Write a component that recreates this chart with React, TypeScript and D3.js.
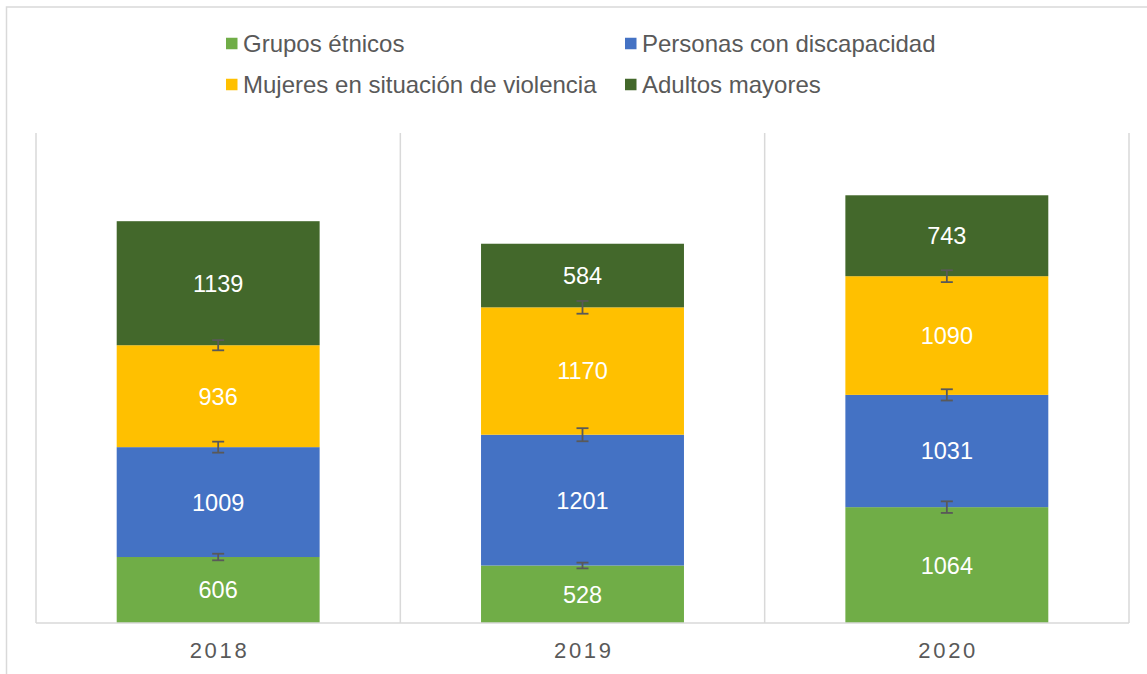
import React from 'react';
import * as d3 from 'd3';

// ─── Datos ───────────────────────────────────────────────────────────────────
const years = ['2018', '2019', '2020'];
const seriesNames = [
  'Grupos étnicos',
  'Personas con discapacidad',
  'Mujeres en situación de violencia',
  'Adultos mayores',
];
const gruposEtnicos = [606, 528, 1064];
const discapacidad = [1009, 1201, 1031];
const mujeresViolencia = [936, 1170, 1090];
const adultosMayores = [1139, 584, 743];
const seriesValues = [gruposEtnicos, discapacidad, mujeresViolencia, adultosMayores];
// barras de error en % del valor (la última serie no tiene)
const errorPct = [0.05, 0.05, 0.05, 0];
const yMax = 4500;

const colors = ['#70ad47', '#4472c4', '#ffc000', '#43682b'];
const FONT = '"Liberation Sans", Arial, sans-serif';

export default function App() {
  const W = 1147;
  const H = 674;
  const plot = { left: 36, right: 1129, top: 133, bottom: 623 };

  const x = d3.scaleBand<string>().domain(years).range([plot.left, plot.right]).padding(0);
  const y = d3.scaleLinear().domain([0, yMax]).range([plot.bottom, plot.top]);
  const barW = x.bandwidth() * 0.557;

  // apilar series
  const table = years.map((yr, i) => {
    const row: Record<string, any> = { year: yr };
    seriesNames.forEach((s, k) => (row[s] = seriesValues[k][i]));
    return row;
  });
  const stacked = d3.stack<any>().keys(seriesNames)(table);

  // ── Leyenda (2 columnas) ──────────────────────────────────────────────────
  const legendCols = [226, 625];
  const legendRows = [43.5, 84.5];
  const legendOrder = [0, 1, 2, 3];

  return (
    <svg
      width={W}
      height={H}
      style={{ position: 'absolute', left: 0, top: 0, background: '#fff' }}
      fontFamily={FONT}
    >
      {/* Marco del gráfico */}
      <rect x={6.5} y={7} width={W + 20} height={H + 20} fill="none" stroke="#d9d9d9" strokeWidth={1.5} />

      {/* Líneas de división verticales */}
      {[...years.map(yr => x(yr)!), plot.right].map((gx, i) => (
        <line key={i} x1={gx} x2={gx} y1={plot.top} y2={plot.bottom} stroke="#d9d9d9" strokeWidth={1.5} />
      ))}

      {/* Barras apiladas */}
      {stacked.map((layer, k) => (
        <g key={layer.key}>
          {layer.map((d, i) => {
            const cx = x(years[i])! + x.bandwidth() / 2;
            return (
              <rect
                key={i}
                x={cx - barW / 2}
                y={y(d[1])}
                width={barW}
                height={y(d[0]) - y(d[1])}
                fill={colors[k]}
              />
            );
          })}
        </g>
      ))}

      {/* Eje base */}
      <line x1={plot.left} x2={plot.right} y1={plot.bottom} y2={plot.bottom} stroke="#d9d9d9" strokeWidth={1.5} />

      {/* Etiquetas de datos */}
      {stacked.map((layer, k) =>
        layer.map((d, i) => {
          const cx = x(years[i])! + x.bandwidth() / 2;
          return (
            <text
              key={`${k}-${i}`}
              x={cx}
              y={(y(d[0]) + y(d[1])) / 2}
              dy="0.36em"
              textAnchor="middle"
              fill="#fff"
              fontSize={23.5}
            >
              {seriesValues[k][i]}
            </text>
          );
        })
      )}

      {/* Barras de error */}
      {stacked.map((layer, k) =>
        errorPct[k] > 0
          ? layer.map((d, i) => {
              const cx = x(years[i])! + x.bandwidth() / 2;
              const err = seriesValues[k][i] * errorPct[k];
              const y0 = y(d[1] - err);
              const y1 = y(d[1] + err);
              return (
                <g key={`e${k}-${i}`} stroke="#595959" strokeWidth={1.8}>
                  <line x1={cx} x2={cx} y1={y0} y2={y1} />
                  <line x1={cx - 6} x2={cx + 6} y1={y0} y2={y0} />
                  <line x1={cx - 6} x2={cx + 6} y1={y1} y2={y1} />
                </g>
              );
            })
          : null
      )}

      {/* Etiquetas del eje X */}
      {years.map(yr => (
        <text
          key={yr}
          x={x(yr)! + x.bandwidth() / 2}
          y={658}
          textAnchor="middle"
          fill="#595959"
          fontSize={22}
          letterSpacing={2.7}
          dx={1.35}
        >
          {yr}
        </text>
      ))}

      {/* Leyenda */}
      {legendOrder.map((k, j) => {
        const lx = legendCols[j % 2];
        const ly = legendRows[Math.floor(j / 2)];
        return (
          <g key={k}>
            <rect x={lx} y={ly - 5.75} width={11.5} height={11.5} fill={colors[k]} />
            <text x={lx + 17} y={ly} dy="0.36em" fill="#595959" fontSize={24}>
              {seriesNames[k]}
            </text>
          </g>
        );
      })}
    </svg>
  );
}
